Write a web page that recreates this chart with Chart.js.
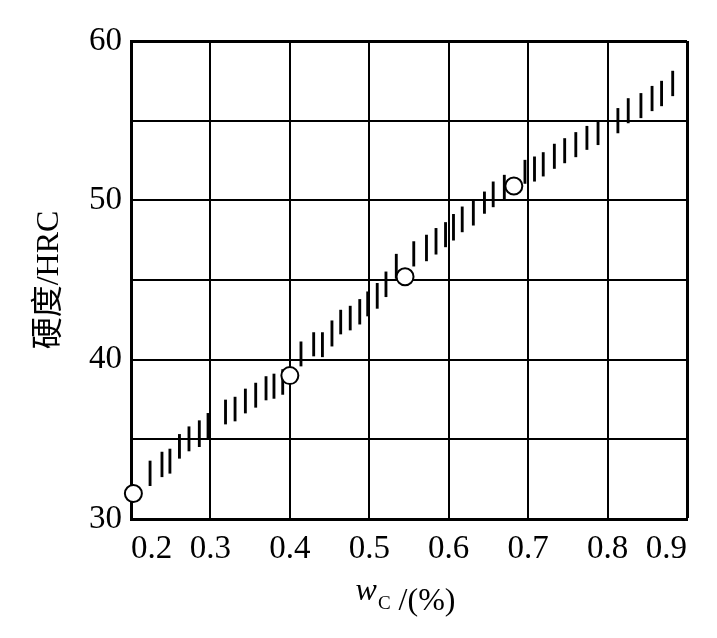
<!DOCTYPE html>
<html>
<head>
<meta charset="utf-8">
<script src="https://cdn.jsdelivr.net/npm/chart.js@4/dist/chart.umd.min.js"></script>
<style>
  body { margin: 0; background: #fff; }
  #wrap { width: 717px; height: 638px; }
</style>
</head>
<body>
<div id="wrap"><canvas id="myChart"></canvas></div>
<script>
// 軸の目盛り
const xTicks = [0.2, 0.3, 0.4, 0.5, 0.6, 0.7, 0.8, 0.9];
const yTicks = [30, 35, 40, 45, 50, 55, 60];

// 測定点 (白丸)
const pointX = [0.203, 0.400, 0.545, 0.682];
const pointY = [31.6, 39.0, 45.2, 50.9];

// 硬度範囲の縦線 (下端・上端)
const bandX = [0.224, 0.239, 0.249, 0.261, 0.273, 0.286, 0.297, 0.319, 0.331, 0.344,
  0.357, 0.370, 0.380, 0.391, 0.414, 0.430, 0.441, 0.453, 0.464, 0.476,
  0.488, 0.498, 0.510, 0.521, 0.534, 0.556, 0.572, 0.584, 0.596, 0.606,
  0.617, 0.631, 0.645, 0.656, 0.670, 0.696, 0.708, 0.719, 0.733, 0.746,
  0.760, 0.774, 0.788, 0.813, 0.826, 0.842, 0.856, 0.868, 0.882];
const bandLow = [32.09, 32.65, 32.87, 33.81, 34.27, 34.54, 35.06, 35.96, 36.15, 36.65,
  37.01, 37.47, 37.57, 37.82, 39.60, 40.23, 40.18, 40.85, 41.61, 41.86,
  42.23, 42.74, 43.22, 43.95, 45.10, 45.87, 46.20, 46.62, 47.08, 47.50,
  48.02, 48.44, 49.18, 49.59, 50.01, 51.06, 51.20, 51.52, 52.00, 52.35,
  52.73, 53.19, 53.49, 54.23, 54.86, 55.18, 55.62, 55.93, 56.56];
const bandHigh = [33.64, 34.20, 34.39, 35.31, 35.79, 36.17, 36.63, 37.47, 37.65, 38.16,
  38.53, 38.94, 39.10, 39.38, 41.12, 41.70, 41.70, 42.44, 43.11, 43.36,
  43.78, 44.26, 44.79, 45.51, 46.62, 47.41, 47.82, 48.24, 48.61, 49.12,
  49.59, 50.01, 50.53, 51.16, 51.58, 52.52, 52.73, 53.00, 53.53, 53.88,
  54.26, 54.65, 55.01, 55.77, 56.39, 56.71, 57.16, 57.48, 58.11];

const serif = '"Liberation Serif", "Times New Roman", "Noto Sans CJK SC", serif';

// x軸タイトル: w (斜体) + 下付き C + /(%)
const xTitle = {
  id: 'xTitle',
  afterDraw(chart) {
    const ctx = chart.ctx;
    const a = chart.chartArea;
    const fIt = 'italic 32px ' + serif;
    const fSub = '19px ' + serif;
    const fMain = '32px ' + serif;
    ctx.save();
    ctx.fillStyle = '#000';
    ctx.textAlign = 'left';
    ctx.textBaseline = 'alphabetic';
    ctx.font = fIt; const w1 = ctx.measureText('w').width;
    ctx.font = fSub; const w2 = ctx.measureText('C').width;
    ctx.font = fMain; const w3 = ctx.measureText(' /(%)').width;
    let x = (a.left + a.right) / 2 - (w1 + w2 + w3) / 2 - 4;
    ctx.font = fIt; ctx.fillText('w', x, 600); x += w1 + 1;
    ctx.font = fSub; ctx.fillText('C', x, 609); x += w2;
    ctx.font = fMain; ctx.fillText(' /(%)', x, 610);
    ctx.restore();
  }
};

const ctx = document.getElementById('myChart').getContext('2d');
new Chart(ctx, {
  type: 'bar',
  data: {
    datasets: [{
      type: 'scatter',
      data: pointX.map((x, i) => ({ x: x, y: pointY[i] })),
      pointStyle: 'circle',
      pointRadius: 8.5,
      pointHoverRadius: 8.5,
      borderWidth: 2,
      borderColor: '#000',
      backgroundColor: '#fff',
      clip: false,
      order: 0
    }, {
      data: bandX.map((x, i) => ({ x: x, y: [bandLow[i], bandHigh[i]] })),
      backgroundColor: '#000',
      borderWidth: 0,
      barThickness: 2.2,
      order: 1
    }]
  },
  options: {
    responsive: true,
    maintainAspectRatio: false,
    animation: false,
    layout: { padding: { left: 30, top: 41, right: 30, bottom: 0 } },
    plugins: { legend: { display: false }, tooltip: { enabled: false } },
    scales: {
      x: {
        type: 'linear',
        min: 0.2,
        max: 0.9,
        offset: false,
        afterBuildTicks: function(scale) {
          scale.ticks = xTicks.map(v => ({ value: v }));
        },
        afterFit: function(scale) { scale.height = 119; },
        grid: {
          offset: false,
          drawTicks: false,
          color: '#000',
          lineWidth: c => (c.tick && c.tick.value === 0.9 ? 3 : 2)
        },
        border: { color: '#000', width: 3 },
        ticks: {
          align: 'inner',
          padding: 11,
          color: '#000',
          font: { family: serif, size: 33 },
          maxRotation: 0,
          autoSkip: false,
          callback: v => v.toFixed(1)
        }
      },
      y: {
        min: 30,
        max: 60,
        afterBuildTicks: function(scale) {
          scale.ticks = yTicks.map(v => ({ value: v }));
        },
        afterFit: function(scale) { scale.width = 101; },
        grid: {
          drawTicks: false,
          color: '#000',
          lineWidth: c => (c.tick && c.tick.value === 60 ? 3 : 2)
        },
        border: { color: '#000', width: 3 },
        ticks: {
          padding: 9,
          color: '#000',
          font: { family: serif, size: 33 },
          callback: v => (v % 10 === 0 ? v : '')
        },
        title: {
          display: true,
          text: '硬度/HRC',
          color: '#000',
          font: { family: serif, size: 32 },
          padding: { top: 0, bottom: 4 }
        }
      }
    }
  },
  plugins: [xTitle]
});
</script>
</body>
</html>
